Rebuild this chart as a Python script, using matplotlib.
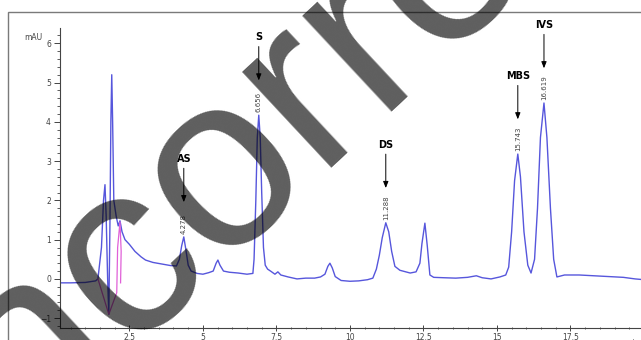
import matplotlib.pyplot as plt
from matplotlib.ticker import MultipleLocator
from matplotlib.patches import Rectangle

# chromatogram trace (time in min, signal in mAU)
time = [0.14, 0.5, 1.0, 1.35, 1.43,
        1.55, 1.62, 1.67, 1.71, 1.76, 1.80,
        1.84, 1.87, 1.90, 1.93, 1.97, 2.05, 2.12, 2.18, 2.25,
        2.35, 2.5, 2.69, 2.9, 3.05, 3.3, 3.6, 3.9, 4.1,
        4.2, 4.28, 4.35, 4.42, 4.5, 4.6, 4.8, 5.0, 5.2,
        5.35, 5.45, 5.51, 5.58, 5.7,
        5.9, 6.2, 6.5, 6.7,
        6.74, 6.80, 6.85, 6.90, 6.95, 7.0, 7.06, 7.12, 7.2, 7.3, 7.45, 7.55, 7.65, 7.9, 8.2, 8.5, 8.8, 9.0,
        9.15, 9.25, 9.32, 9.4, 9.5, 9.7, 10.0, 10.3, 10.6, 10.78,
        10.9, 11.0, 11.1, 11.22, 11.32, 11.42, 11.53, 11.7, 11.9, 12.05, 12.25,
        12.38, 12.45, 12.55, 12.63, 12.72, 12.85, 13.2, 13.6, 14.0, 14.3, 14.5, 14.8, 15.1, 15.3,
        15.4, 15.5, 15.6, 15.71, 15.8, 15.92, 16.05, 16.16,
        16.28, 16.38, 16.48, 16.6, 16.7, 16.82, 16.93, 17.04, 17.3, 17.8, 18.3, 18.8, 19.3, 19.7, 20.0]
signal = [-0.10, -0.10, -0.09, -0.05, 0.0,
          0.8, 2.0, 2.40, 1.6, 0.0, -0.90,
          1.5, 4.0, 5.20, 4.0, 2.0, 1.6, 1.35, 1.48, 1.2,
          1.0, 0.88, 0.70, 0.56, 0.48, 0.42, 0.38, 0.34, 0.33,
          0.5, 0.85, 1.07, 0.75, 0.35, 0.2, 0.14, 0.12, 0.16,
          0.2, 0.40, 0.48, 0.35, 0.2,
          0.17, 0.15, 0.12, 0.14,
          0.5, 2.0, 3.6, 4.17, 3.6, 2.2, 0.8, 0.35, 0.25, 0.2, 0.12, 0.18, 0.1, 0.05, 0.0, 0.02, 0.02, 0.05,
          0.12, 0.32, 0.40, 0.28, 0.06, -0.04, -0.06, -0.05, -0.02, 0.02,
          0.25, 0.6, 1.05, 1.43, 1.2, 0.7, 0.32, 0.22, 0.18, 0.15, 0.18,
          0.4, 0.9, 1.42, 0.85, 0.1, 0.04, 0.03, 0.02, 0.04, 0.08, 0.03, 0.0, 0.05, 0.1,
          0.3, 1.2, 2.5, 3.18, 2.6, 1.2, 0.35, 0.15,
          0.5, 1.8, 3.6, 4.48, 3.6, 1.8, 0.5, 0.05, 0.1, 0.1, 0.08, 0.06, 0.04, 0.0, -0.02]

# integration marks around the solvent front
integ_time = [1.43, 1.80, 2.07, 2.10, 2.18, 2.22, 2.20]
integ_signal = [0.0, -0.90, -0.35, 0.8, 1.45, 0.7, -0.1]

# labelled peaks
peak_names = ['AS', 'S', 'DS', 'MBS', 'IVS']
peak_times = [4.35, 6.90, 11.22, 15.71, 16.60]
peak_heights = [1.07, 4.17, 1.43, 3.18, 4.48]
peak_rt_labels = ['4.278', '6.656', '11.288', '15.743', '16.619']

xticks = [2.5, 5, 7.5, 10, 12.5, 15, 17.5]
xtick_labels = ['2.5', '5', '7.5', '10', '12.5', '15', '17.5']
yticks = [-1, 0, 1, 2, 3, 4, 5, 6]

W, H = 641, 340
fig = plt.figure(figsize=(W / 100, H / 100), dpi=100)

# outer frame of the report
fig.patches.append(Rectangle((8 / W, -0.1), 1.2, (H - 12) / H + 0.1, transform=fig.transFigure,
                             fill=False, edgecolor='#7a7a7a', linewidth=1.0))

ax = fig.add_axes([60 / W, (H - 328) / H, (W - 60) / W, 300 / H])
ax.plot(time, signal, color='#5656dc', linewidth=1.0)
ax.plot(integ_time, integ_signal, color='#e060d8', linewidth=0.9)

ax.set_xlim(0.14, 19.9)
ax.set_ylim(-1.25, 6.39)
for side in ['top', 'right']:
    ax.spines[side].set_visible(False)
for side in ['left', 'bottom']:
    ax.spines[side].set_color('#444444')
    ax.spines[side].set_linewidth(0.8)

ax.set_xticks(xticks)
ax.set_xticklabels(xtick_labels)
ax.set_yticks(yticks)
ax.xaxis.set_minor_locator(MultipleLocator(0.5))
ax.yaxis.set_minor_locator(MultipleLocator(0.2))
ax.tick_params(axis='both', which='major', labelsize=5.5, labelcolor='#444444', color='#444444',
               length=4.5, width=0.7)
ax.tick_params(axis='both', which='minor', color='#444444', length=2, width=0.6)
ax.tick_params(axis='x', which='both', direction='inout', pad=1)
ax.tick_params(axis='y', which='both', direction='out', pad=2)

ax.text(-0.031, 0.97, 'mAU', transform=ax.transAxes, fontsize=5.5, color='#444444',
        ha='right', va='center')
ax.text(0.985, -0.035, 'min', transform=ax.transAxes, fontsize=5.5, color='#444444',
        ha='center', va='top', clip_on=False)

for name, t, h, rt in zip(peak_names, peak_times, peak_heights, peak_rt_labels):
    ax.annotate(rt, xy=(t, h), xytext=(0, 2), textcoords='offset points',
                rotation=90, ha='center', va='bottom', fontsize=5, color='#444444')
    ax.annotate(name, xy=(t, h), xytext=(0, 56), textcoords='offset points',
                ha='center', va='center', fontsize=7, fontweight='bold', color='black',
                arrowprops=dict(arrowstyle='-|>,head_length=0.55,head_width=0.22',
                                color='black', lw=0.7, shrinkA=1, shrinkB=25))

# big semi-transparent watermark across the chart
fig.text(-16 / W, (H - 477) / H, 'incorrect', fontsize=178, rotation=43,
         family='Liberation Sans', rotation_mode='anchor', ha='left', va='baseline',
         color='black', alpha=0.63)

fig.savefig('out.png', dpi=100)
